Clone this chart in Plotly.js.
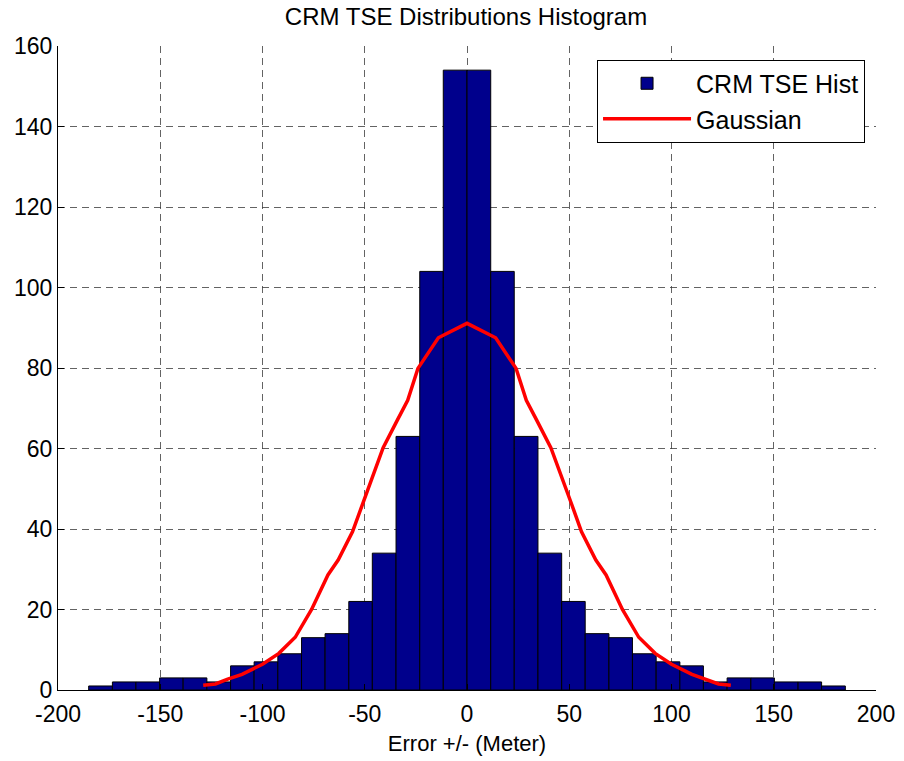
<!DOCTYPE html>
<html>
<head>
<meta charset="utf-8">
<script src="https://cdn.plot.ly/plotly-3.0.1.min.js"></script>
<style>html,body{margin:0;padding:0;background:#fff;}#chart{width:904px;height:761px;}</style>
</head>
<body>
<div id="chart"></div>
<script>
// Histogram bin edges (meters) and counts
const binEdges = [-185, -173.4, -161.9, -150.3, -138.8, -127.2, -115.6, -104.1, -92.5, -80.9, -69.4, -57.8, -46.3, -34.7, -23.1, -11.6, 0,
                  11.6, 23.1, 34.7, 46.3, 57.8, 69.4, 80.9, 92.5, 104.1, 115.6, 127.2, 138.8, 150.3, 161.9, 173.4, 185];
const counts = [1, 2, 2, 3, 3, 2, 6, 7, 9, 13, 14, 22, 34, 63, 104, 154,
                154, 104, 63, 34, 22, 14, 13, 9, 7, 6, 2, 3, 3, 2, 2, 1];

// Gaussian curve points
const gaussX = [-129, -123, -117, -110, -100, -92, -84, -76, -68, -63, -56, -51, -41, -34, -29, -24, -14, 0,
                14, 24, 29, 34, 41, 51, 56, 63, 68, 76, 84, 92, 100, 110, 117, 123, 129];
const gaussY = [1.2, 1.5, 2.7, 3.9, 6.4, 9.1, 13.1, 20, 28.6, 32.3, 39.3, 46.4, 60.2, 67.1, 72, 79.9, 87.5, 91.1,
                87.5, 79.9, 72, 67.1, 60.2, 46.4, 39.3, 32.3, 28.6, 20, 13.1, 9.1, 6.4, 3.9, 2.7, 1.5, 1.2];

const xTicks = [-200, -150, -100, -50, 0, 50, 100, 150, 200];
const yTicks = [0, 20, 40, 60, 80, 100, 120, 140, 160];

const centers = [], widths = [];
for (let i = 0; i < counts.length; i++) {
  centers.push((binEdges[i] + binEdges[i + 1]) / 2);
  widths.push(binEdges[i + 1] - binEdges[i]);
}

const FONT = 'Liberation Sans, Arial, Helvetica, sans-serif';

const traces = [
  {
    type: 'bar', name: 'CRM TSE Hist',
    x: centers, y: counts, width: widths,
    marker: {color: 'rgb(0,0,140)', line: {color: '#000', width: 1}},
    hoverinfo: 'x+y'
  },
  {
    type: 'scatter', mode: 'lines', name: 'Gaussian',
    x: gaussX, y: gaussY,
    line: {color: '#ff0000', width: 3.5}
  }
];

const gridStyle = {showgrid: true, gridcolor: 'rgba(60,60,60,0.8)', gridwidth: 1, griddash: '7px,5px'};

const layout = {
  width: 904, height: 761,
  margin: {l: 58, r: 28, t: 46, b: 71},
  paper_bgcolor: '#fff', plot_bgcolor: '#fff',
  font: {family: FONT, size: 23, color: '#000'},
  title: {text: 'CRM TSE Distributions Histogram', x: 0.5155, xanchor: 'center', y: 0.989, yanchor: 'top',
          font: {family: FONT, size: 24, color: '#000'}},
  bargap: 0,
  showlegend: true,
  legend: {x: 0.9866, xanchor: 'right', y: 0.979, yanchor: 'top',
           bgcolor: '#fff', bordercolor: '#000', borderwidth: 1,
           font: {family: FONT, size: 25, color: '#000'}, itemwidth: 88, tracegroupgap: 2},
  xaxis: Object.assign({
    range: [-200, 200], tickvals: xTicks, ticktext: xTicks.map(String),
    ticks: 'inside', ticklen: 6, tickcolor: '#000', ticklabelstandoff: 3,
    showline: true, linecolor: '#000', linewidth: 1, zeroline: false,
    tickfont: {family: FONT, size: 23, color: '#000'},
    title: {text: 'Error +/- (Meter)', font: {family: FONT, size: 22, color: '#000'}, standoff: 10}
  }, gridStyle),
  yaxis: Object.assign({
    range: [0, 160], tickvals: yTicks, ticktext: yTicks.map(String),
    ticks: 'inside', ticklen: 6, tickcolor: '#000',
    showline: true, linecolor: '#000', linewidth: 1, zeroline: false,
    tickfont: {family: FONT, size: 23, color: '#000'}
  }, gridStyle)
};

Plotly.newPlot('chart', traces, layout, {displayModeBar: false, staticPlot: true});
</script>
</body>
</html>
